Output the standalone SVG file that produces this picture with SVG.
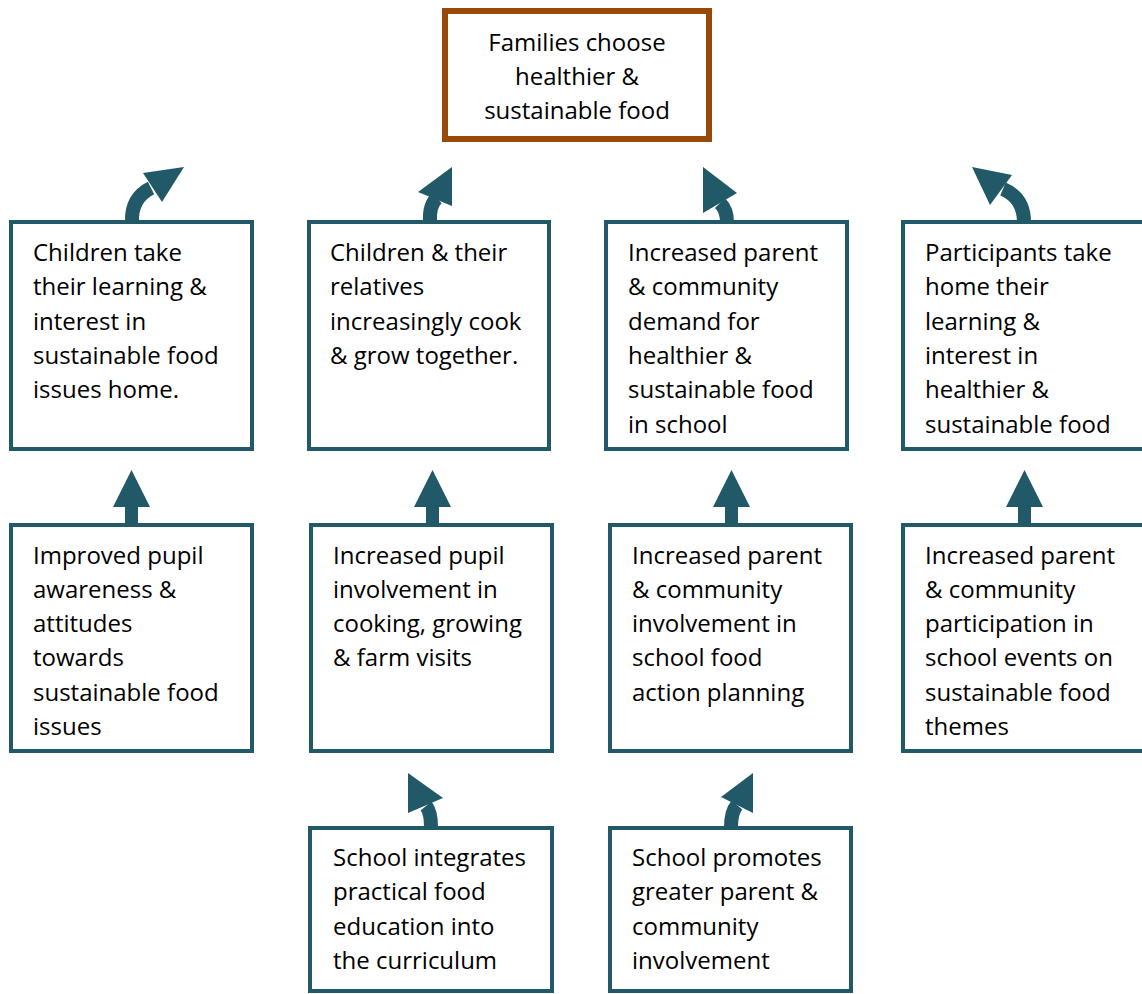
<svg xmlns="http://www.w3.org/2000/svg" width="1142" height="994" viewBox="0 0 1142 994">
<style>
.box{fill:#fff;stroke:#215968;stroke-width:4}
.goal{fill:#fff;stroke:#984807;stroke-width:6}
.t{font-family:"Open Sans","Liberation Sans",sans-serif;font-size:24px;fill:#000}
.shaft{fill:none;stroke:#215968;stroke-width:14}
.head{fill:#215968;stroke:none}
</style>
<rect width="1142" height="994" fill="#fff"/>
<g id="connectors">
  <path class="shaft" d="M132,222 Q131,198 151,188"/>
  <polygon class="head" points="184,167 143,173 162,202"/>
  <path class="shaft" d="M430,222 Q429,205 437,198"/>
  <polygon class="head" points="452,167 418,192 452,206"/>
  <path class="shaft" d="M727,222 Q727,210 720,203"/>
  <polygon class="head" points="703,167 703,213 737,193"/>
  <path class="shaft" d="M1024,222 Q1024,198 1003,189"/>
  <polygon class="head" points="972,167 1012,175 990,205"/>
  <rect class="head" x="125" y="500" width="13" height="24"/>
  <polygon class="head" points="131.5,470 113,507 150,507"/>
  <rect class="head" x="426" y="500" width="13" height="24"/>
  <polygon class="head" points="432.5,470 414,507 451,507"/>
  <rect class="head" x="725" y="500" width="13" height="24"/>
  <polygon class="head" points="731.5,470 713,507 750,507"/>
  <rect class="head" x="1018" y="500" width="13" height="24"/>
  <polygon class="head" points="1024.5,470 1006,507 1043,507"/>
  <path class="shaft" d="M431,827 Q431,812 426,806"/>
  <polygon class="head" points="408,773 408,813 443,798"/>
  <path class="shaft" d="M731,827 Q731,812 737,805"/>
  <polygon class="head" points="753,773 721,797 753,813"/>
</g>
<g id="goal">
  <rect class="goal" x="445" y="11" width="264" height="128"/>
  <text class="t" text-anchor="middle"><tspan x="577" y="50.5">Families choose</tspan><tspan x="577" y="84.8">healthier &amp;</tspan><tspan x="577" y="119.1">sustainable food</tspan></text>
</g>
<g id="n1a">
  <rect class="box" x="11" y="222" width="241" height="227"/>
  <text class="t"><tspan x="33" y="261">Children take</tspan><tspan x="33" y="295.3">their learning &amp;</tspan><tspan x="33" y="329.6">interest in</tspan><tspan x="33" y="363.9">sustainable food</tspan><tspan x="33" y="398.2">issues home.</tspan></text>
</g>
<g id="n1b">
  <rect class="box" x="309" y="222" width="240" height="227"/>
  <text class="t"><tspan x="330" y="261">Children &amp; their</tspan><tspan x="330" y="295.3">relatives</tspan><tspan x="330" y="329.6">increasingly cook</tspan><tspan x="330" y="363.9">&amp; grow together.</tspan></text>
</g>
<g id="n1c">
  <rect class="box" x="606" y="222" width="241" height="227"/>
  <text class="t"><tspan x="628" y="261">Increased parent</tspan><tspan x="628" y="295.3">&amp; community</tspan><tspan x="628" y="329.6">demand for</tspan><tspan x="628" y="363.9">healthier &amp;</tspan><tspan x="628" y="398.2">sustainable food</tspan><tspan x="628" y="432.5">in school</tspan></text>
</g>
<g id="n1d">
  <rect class="box" x="903" y="222" width="250" height="227"/>
  <text class="t"><tspan x="925" y="261">Participants take</tspan><tspan x="925" y="295.3">home their</tspan><tspan x="925" y="329.6">learning &amp;</tspan><tspan x="925" y="363.9">interest in</tspan><tspan x="925" y="398.2">healthier &amp;</tspan><tspan x="925" y="432.5">sustainable food</tspan></text>
</g>
<g id="n2a">
  <rect class="box" x="11" y="525" width="241" height="226"/>
  <text class="t"><tspan x="33" y="563.5">Improved pupil</tspan><tspan x="33" y="597.8">awareness &amp;</tspan><tspan x="33" y="632.1">attitudes</tspan><tspan x="33" y="666.4">towards</tspan><tspan x="33" y="700.7">sustainable food</tspan><tspan x="33" y="735">issues</tspan></text>
</g>
<g id="n2b">
  <rect class="box" x="311" y="525" width="241" height="226"/>
  <text class="t"><tspan x="333" y="563.5">Increased pupil</tspan><tspan x="333" y="597.8">involvement in</tspan><tspan x="333" y="632.1">cooking, growing</tspan><tspan x="333" y="666.4">&amp; farm visits</tspan></text>
</g>
<g id="n2c">
  <rect class="box" x="610" y="525" width="241" height="226"/>
  <text class="t"><tspan x="632" y="563.5">Increased parent</tspan><tspan x="632" y="597.8">&amp; community</tspan><tspan x="632" y="632.1">involvement in</tspan><tspan x="632" y="666.4">school food</tspan><tspan x="632" y="700.7">action planning</tspan></text>
</g>
<g id="n2d">
  <rect class="box" x="903" y="525" width="250" height="226"/>
  <text class="t"><tspan x="925" y="563.5">Increased parent</tspan><tspan x="925" y="597.8">&amp; community</tspan><tspan x="925" y="632.1">participation in</tspan><tspan x="925" y="666.4">school events on</tspan><tspan x="925" y="700.7">sustainable food</tspan><tspan x="925" y="735">themes</tspan></text>
</g>
<g id="n3b">
  <rect class="box" x="310" y="828" width="242" height="163"/>
  <text class="t"><tspan x="333" y="866">School integrates</tspan><tspan x="333" y="900.3">practical food</tspan><tspan x="333" y="934.6">education into</tspan><tspan x="333" y="968.9">the curriculum</tspan></text>
</g>
<g id="n3c">
  <rect class="box" x="610" y="828" width="241" height="163"/>
  <text class="t"><tspan x="632" y="866">School promotes</tspan><tspan x="632" y="900.3">greater parent &amp;</tspan><tspan x="632" y="934.6">community</tspan><tspan x="632" y="968.9">involvement</tspan></text>
</g>
</svg>
